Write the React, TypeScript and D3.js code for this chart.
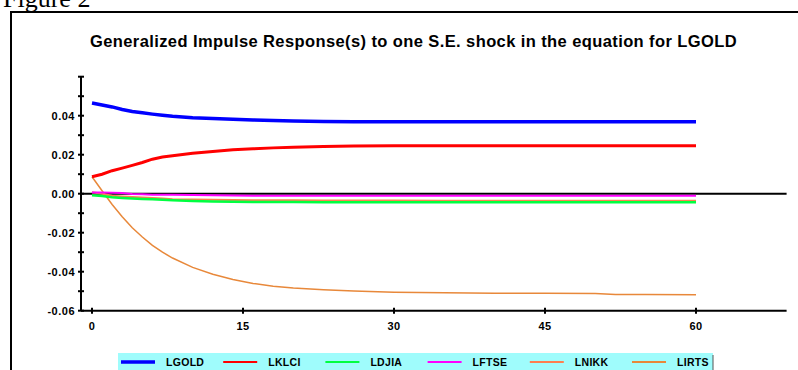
import React, { useEffect, useRef } from "react";
import * as d3 from "d3";

const steps = [0, 1, 2, 3, 4, 5, 6, 7, 8, 10, 12, 14, 16, 18, 20, 23, 26, 30, 35, 40, 45, 50, 52, 55, 60];

const lgold = [0.0465, 0.0455, 0.0445, 0.0432, 0.0422, 0.0415, 0.0408, 0.0402, 0.0397, 0.039, 0.0386, 0.0382, 0.0378, 0.0375, 0.0373, 0.037, 0.0369, 0.0369, 0.0369, 0.0369, 0.0369, 0.0369, 0.0369, 0.0369, 0.0369];
const lklci = [0.0087, 0.01, 0.0118, 0.0131, 0.0145, 0.016, 0.0177, 0.0188, 0.0195, 0.0207, 0.0217, 0.0225, 0.023, 0.0235, 0.0238, 0.0242, 0.0245, 0.0246, 0.0246, 0.0246, 0.0246, 0.0246, 0.0246, 0.0246, 0.0246];
const ldjia = [-0.0008, -0.0012, -0.0018, -0.0022, -0.0025, -0.0027, -0.0029, -0.0031, -0.0033, -0.0037, -0.004, -0.0041, -0.0042, -0.0043, -0.0043, -0.0044, -0.0044, -0.0044, -0.0044, -0.0044, -0.0044, -0.0044, -0.0044, -0.0044, -0.0044];
const lftse = [0.0006, 0.0006, 0.0005, 0.0004, -0.0001, -0.0003, -0.0005, -0.0006, -0.0006, -0.0007, -0.0008, -0.0009, -0.001, -0.001, -0.001, -0.001, -0.001, -0.001, -0.001, -0.001, -0.001, -0.001, -0.001, -0.001, -0.001];
const lnikk = [0.0008, 0.0, -0.001, -0.0014, -0.0017, -0.002, -0.0022, -0.0025, -0.0028, -0.003, -0.0031, -0.0032, -0.0033, -0.0034, -0.0034, -0.0035, -0.0035, -0.0035, -0.0036, -0.0036, -0.0036, -0.0036, -0.0036, -0.0036, -0.0036];
const lirts = [0.0087, 0.0015, -0.0055, -0.0118, -0.0175, -0.0222, -0.0265, -0.03, -0.033, -0.0378, -0.0413, -0.044, -0.046, -0.0474, -0.0484, -0.0493, -0.0499, -0.0505, -0.0508, -0.0511, -0.0511, -0.0512, -0.0517, -0.0517, -0.0518];

const seriesNames = ["LGOLD", "LKLCI", "LDJIA", "LFTSE", "LNIKK", "LIRTS"];
const seriesValues = [lgold, lklci, ldjia, lftse, lnikk, lirts];
const seriesColors = ["#0000ff", "#ff0000", "#00ff40", "#ff00ff", "#ff7f50", "#e8883a"];
const seriesWidths = [3.5, 3, 2.5, 2, 2, 1.5];

const xTicks = [0, 15, 30, 45, 60];
const yLabels = [-0.06, -0.04, -0.02, 0, 0.02, 0.04];
const yMinor = d3.range(-6, 7).map(d => d / 100);

const title = "Generalized Impulse Response(s) to one S.E. shock in the equation for LGOLD";

export default function App() {
  const ref = useRef<SVGSVGElement>(null);

  useEffect(() => {
    const svg = d3.select(ref.current);
    svg.selectAll("*").remove();

    const x = d3.scaleLinear().domain([0, 60]).range([92, 696]);
    const y = d3.scaleLinear().domain([-0.06, 0.06]).range([310.7, 76.7]);
    const axisLeft = 81;
    const axisRight = x(69);

    // caption above the frame, cut by the top edge like in the scan
    svg.append("text")
      .attr("x", 3).attr("y", 7)
      .attr("font-family", "Liberation Serif, serif")
      .attr("font-size", 26)
      .text("Figure 2");

    // frame
    svg.append("path")
      .attr("d", `M11,372 L11,12 L800,12`)
      .attr("fill", "none")
      .attr("stroke", "#000")
      .attr("stroke-width", 2);

    svg.append("text")
      .attr("x", 413.5).attr("y", 46.5)
      .attr("text-anchor", "middle")
      .attr("font-family", "Liberation Sans, Arial, sans-serif")
      .attr("font-weight", "bold")
      .attr("font-size", 16.5)
      .attr("letter-spacing", 0.4)
      .text(title);

    const axes = svg.append("g").attr("stroke", "#000").attr("stroke-width", 2);
    axes.append("line")
      .attr("x1", axisLeft).attr("x2", axisLeft)
      .attr("y1", y(0.06)).attr("y2", y(-0.06));
    axes.append("line")
      .attr("x1", axisLeft).attr("x2", axisRight)
      .attr("y1", y(-0.06)).attr("y2", y(-0.06));
    axes.selectAll(".ytick")
      .data(yMinor)
      .join("line")
      .attr("x1", axisLeft - 3).attr("x2", axisLeft + 3)
      .attr("y1", d => y(d)).attr("y2", d => y(d));
    axes.selectAll(".xtick")
      .data(xTicks)
      .join("line")
      .attr("x1", d => x(d)).attr("x2", d => x(d))
      .attr("y1", y(-0.06) - 3).attr("y2", y(-0.06) + 3);

    const labelFont = (sel: any) => sel
      .attr("font-family", "Liberation Sans, Arial, sans-serif")
      .attr("font-weight", "bold")
      .attr("font-size", 11)
      .attr("fill", "#000");

    svg.append("g").call(labelFont)
      .selectAll("text")
      .data(yLabels)
      .join("text")
      .attr("x", 75)
      .attr("y", d => y(d) + 4)
      .attr("text-anchor", "end")
      .attr("letter-spacing", 0.5)
      .text(d => d3.format(".2f")(d).replace("−", "-"));

    svg.append("g").call(labelFont)
      .selectAll("text")
      .data(xTicks)
      .join("text")
      .attr("x", d => x(d))
      .attr("y", 329.5)
      .attr("text-anchor", "middle")
      .attr("letter-spacing", 0.5)
      .text(d => String(d));

    // zero line
    svg.append("line")
      .attr("x1", axisLeft).attr("x2", axisRight)
      .attr("y1", y(0)).attr("y2", y(0))
      .attr("stroke", "#000").attr("stroke-width", 2);

    const line = d3.line<number>()
      .x((_, i) => x(steps[i]))
      .y(d => y(d));

    const order = [5, 4, 3, 2, 1, 0];
    svg.append("g")
      .selectAll("path")
      .data(order)
      .join("path")
      .attr("d", i => line(seriesValues[i]))
      .attr("fill", "none")
      .attr("stroke", i => seriesColors[i])
      .attr("stroke-width", i => seriesWidths[i]);

    // legend
    const legend = svg.append("g");
    legend.append("rect")
      .attr("x", 118).attr("y", 353)
      .attr("width", 595).attr("height", 20)
      .attr("fill", "#9ffcfc");
    legend.append("line")
      .attr("x1", 713).attr("x2", 713).attr("y1", 355).attr("y2", 370)
      .attr("stroke", "#555").attr("stroke-width", 1);
    const item = legend.selectAll("g.item")
      .data(seriesNames)
      .join("g")
      .attr("transform", (_, i) => `translate(${121 + i * 102.2},0)`);
    item.append("line")
      .attr("x1", 0).attr("x2", 34)
      .attr("y1", 362).attr("y2", 362)
      .attr("stroke", (_, i) => seriesColors[i])
      .attr("stroke-width", (_, i) => (i === 0 ? 3.5 : 2));
    item.append("text")
      .call(labelFont)
      .attr("font-size", 10.5)
      .attr("letter-spacing", 0.3)
      .attr("x", 45).attr("y", 366)
      .text(d => d);
  }, []);

  return (
    <svg
      ref={ref}
      width={798}
      height={370}
      style={{ position: "fixed", left: 0, top: 0, background: "#fff" }}
    />
  );
}
